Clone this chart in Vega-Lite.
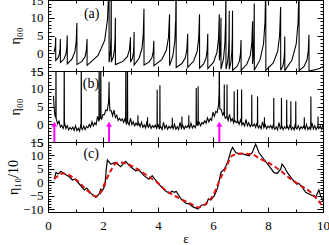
{
"$schema":"https://vega.github.io/schema/vega-lite/v6.json",
"padding":{"top":-6,"left":6,"right":0,"bottom":0},
"spacing":0,
"bounds":"flush",
"resolve":{"scale":{"x":"independent","y":"independent"}},
"config":{"font":"Liberation Serif","view":{"stroke":null},
"axis":{"grid":false,"domainColor":"black","tickColor":"black","labelColor":"black","titleColor":"black","labelFont":"Liberation Serif","titleFont":"Liberation Serif","labelFontSize":13,"titleFontSize":14,"titleFontWeight":"normal","domainWidth":1,"tickWidth":1,"labelOverlap":false,"labelBound":false,"labelFlush":false}},
"datasets":{
"a":[{"e":0.22,"v":0.3},{"e":0.25,"v":1.2},{"e":0.27,"v":2.4},{"e":0.28,"v":4.5},{"e":0.282,"v":-2.0},
{"e":0.366,"v":-1.3},{"e":0.416,"v":-0.2},{"e":0.438,"v":1.3},{"e":0.45,"v":4.0},{"e":0.452,"v":-2.6},
{"e":0.576,"v":-1.7},{"e":0.65,"v":-0.3},{"e":0.683,"v":1.6},{"e":0.70,"v":5.0},{"e":0.702,"v":-3.0},
{"e":0.876,"v":-1.6},{"e":0.98,"v":0.5},{"e":1.026,"v":3.3},{"e":1.05,"v":8.5},{"e":1.052,"v":-3.2},
{"e":1.236,"v":-2.3},{"e":1.346,"v":-1.0},{"e":1.394,"v":0.8},{"e":1.42,"v":4.0},{"e":1.422,"v":-3.4},
{"e":1.821,"v":-0.6},{"e":2.06,"v":3.6},{"e":2.164,"v":9.5},{"e":2.22,"v":20},{"e":2.222,"v":-2.5},
{"e":2.27,"v":0.5},{"e":2.29,"v":5},{"e":2.30,"v":20},{"e":2.302,"v":-2.5},
{"e":2.376,"v":-1.0},{"e":2.42,"v":1.3},{"e":2.44,"v":4.4},{"e":2.45,"v":10},{"e":2.452,"v":-3.2},
{"e":2.726,"v":-2.3},{"e":2.89,"v":-0.9},{"e":2.962,"v":1.0},{"e":3.0,"v":4.5},{"e":3.002,"v":-2.5},
{"e":3.066,"v":-1.5},{"e":3.104,"v":0.0},{"e":3.121,"v":2.2},{"e":3.13,"v":6},{"e":3.132,"v":-3.3},
{"e":3.311,"v":-1.4},{"e":3.418,"v":1.4},{"e":3.465,"v":5.4},{"e":3.49,"v":12.5},{"e":3.492,"v":-3.3},
{"e":3.671,"v":-2.5},{"e":3.778,"v":-1.3},{"e":3.826,"v":0.4},{"e":3.85,"v":3.5},{"e":3.852,"v":-3.5},
{"e":4.136,"v":-1.8},{"e":4.306,"v":0.9},{"e":4.382,"v":4.5},{"e":4.42,"v":11},{"e":4.422,"v":-3.5},
{"e":4.541,"v":-0.7},{"e":4.612,"v":3.5},{"e":4.644,"v":9.4},{"e":4.66,"v":20},{"e":4.662,"v":-4.0},
{"e":4.871,"v":-2.9},{"e":4.996,"v":-1.2},{"e":5.051,"v":1.2},{"e":5.08,"v":5.5},{"e":5.082,"v":-4.0},
{"e":5.296,"v":-2.2},{"e":5.424,"v":0.5},{"e":5.48,"v":4.3},{"e":5.51,"v":11},{"e":5.512,"v":-4.2},
{"e":5.661,"v":-3.0},{"e":5.75,"v":-1.3},{"e":5.789,"v":1.1},{"e":5.81,"v":5.5},{"e":5.812,"v":-4.3},
{"e":6.021,"v":-2.5},{"e":6.146,"v":0.3},{"e":6.2,"v":4.1},{"e":6.23,"v":11},{"e":6.232,"v":-2},
{"e":6.26,"v":0.5},{"e":6.28,"v":4},{"e":6.29,"v":10},{"e":6.292,"v":-4.5},
{"e":6.381,"v":-1.6},{"e":6.434,"v":2.9},{"e":6.458,"v":9.0},{"e":6.47,"v":20},{"e":6.472,"v":-4.5},
{"e":6.531,"v":-2.5},{"e":6.566,"v":0.5},{"e":6.582,"v":4.6},{"e":6.59,"v":12},{"e":6.592,"v":-4.5},
{"e":6.651,"v":-2.5},{"e":6.686,"v":0.5},{"e":6.702,"v":4.6},{"e":6.71,"v":12},{"e":6.712,"v":-4.8},
{"e":6.866,"v":-3.8},{"e":6.958,"v":-2.3},{"e":6.998,"v":-0.1},{"e":7.02,"v":3.7},{"e":7.022,"v":-4.8},
{"e":7.231,"v":-3.1},{"e":7.356,"v":-0.7},{"e":7.411,"v":2.8},{"e":7.44,"v":9},{"e":7.442,"v":-3},
{"e":7.47,"v":0},{"e":7.49,"v":5},{"e":7.50,"v":14},{"e":7.502,"v":-4.8},
{"e":7.711,"v":-1.8},{"e":7.836,"v":2.6},{"e":7.891,"v":8.8},{"e":7.92,"v":20},{"e":7.922,"v":-4.8},
{"e":8.191,"v":-2.7},{"e":8.352,"v":0.5},{"e":8.422,"v":5.0},{"e":8.46,"v":13},{"e":8.462,"v":-4.8},
{"e":8.536,"v":-3.7},{"e":8.58,"v":-2.0},{"e":8.6,"v":0.4},{"e":8.61,"v":4.7},{"e":8.612,"v":-4.9},
{"e":8.871,"v":-1.9},{"e":9.026,"v":2.6},{"e":9.094,"v":8.8},{"e":9.13,"v":20},{"e":9.132,"v":-4.9},
{"e":9.311,"v":-3.7},{"e":9.418,"v":-1.9},{"e":9.465,"v":0.7},{"e":9.49,"v":5.2},{"e":9.492,"v":-5.0},
{"e":9.75,"v":-4.6},{"e":9.9,"v":-4.2},{"e":10,"v":-3.8}],
"b":[{"e":0.20,"v":8.0},{"e":0.22,"v":5.0},{"e":0.25,"v":2.5},{"e":0.30,"v":1.5},{"e":0.35,"v":0.1},{"e":0.40,"v":0.9},{"e":0.45,"v":-0.8},{"e":0.50,"v":-0.3},{"e":0.55,"v":-1.2},{"e":0.60,"v":0.6},{"e":0.65,"v":-1.2},{"e":0.70,"v":-0.4},{"e":0.75,"v":-1.6},{"e":0.80,"v":-0.9},{"e":0.85,"v":-1.4},{"e":0.90,"v":-0.8},{"e":0.95,"v":-1.7},{"e":1.00,"v":-0.4},{"e":1.05,"v":-1.8},{"e":1.10,"v":-1.1},{"e":1.15,"v":-1.9},{"e":1.20,"v":0.2},{"e":1.25,"v":-1.5},{"e":1.30,"v":-0.5},{"e":1.35,"v":-1.5},{"e":1.40,"v":-0.6},{"e":1.45,"v":-1.0},{"e":1.50,"v":-0.1},{"e":1.55,"v":-0.8},{"e":1.60,"v":0.7},{"e":1.65,"v":-0.5},{"e":1.70,"v":0.4},{"e":1.75,"v":-0.1},{"e":1.80,"v":2.2},{"e":1.85,"v":0.8},{"e":1.90,"v":2.1},{"e":1.95,"v":1.4},{"e":2.00,"v":2.7},{"e":2.05,"v":2.7},{"e":2.10,"v":4.0},{"e":2.15,"v":3.8},{"e":2.20,"v":6.1},{"e":2.25,"v":3.8},{"e":2.30,"v":3.8},{"e":2.35,"v":2.4},{"e":2.40,"v":4.0},{"e":2.45,"v":1.9},{"e":2.50,"v":2.5},{"e":2.55,"v":1.1},{"e":2.60,"v":1.7},{"e":2.65,"v":1.0},{"e":2.70,"v":1.5},{"e":2.75,"v":0.5},{"e":2.80,"v":1.7},{"e":2.85,"v":0.1},{"e":2.90,"v":0.7},{"e":2.95,"v":-0.2},{"e":3.00,"v":1.7},{"e":3.05,"v":-0.1},{"e":3.10,"v":0.7},{"e":3.15,"v":-0.45},{"e":3.20,"v":0.3},{"e":3.25,"v":-0.3},{"e":3.30,"v":0.3},{"e":3.35,"v":-0.65},{"e":3.40,"v":0.6},{"e":3.45,"v":-0.85},{"e":3.50,"v":-0.2},{"e":3.55,"v":-1.05},{"e":3.60,"v":0.9},{"e":3.65,"v":-0.85},{"e":3.70,"v":0.0},{"e":3.75,"v":-1.15},{"e":3.80,"v":-0.4},{"e":3.85,"v":-0.9},{"e":3.90,"v":-0.2},{"e":3.95,"v":-1.15},{"e":4.00,"v":0.1},{"e":4.05,"v":-1.35},{"e":4.10,"v":-0.7},{"e":4.15,"v":-1.5},{"e":4.20,"v":0.5},{"e":4.25,"v":-1.2},{"e":4.30,"v":-0.3},{"e":4.35,"v":-1.4},{"e":4.40,"v":-0.6},{"e":4.45,"v":-1.1},{"e":4.50,"v":-0.4},{"e":4.55,"v":-1.3},{"e":4.60,"v":0.0},{"e":4.65,"v":-1.4},{"e":4.70,"v":-0.7},{"e":4.75,"v":-1.5},{"e":4.80,"v":0.5},{"e":4.85,"v":-1.2},{"e":4.90,"v":-0.3},{"e":4.95,"v":-1.35},{"e":5.00,"v":-0.5},{"e":5.05,"v":-0.95},{"e":5.10,"v":-0.2},{"e":5.15,"v":-1.05},{"e":5.20,"v":0.3},{"e":5.25,"v":-1.05},{"e":5.30,"v":-0.3},{"e":5.35,"v":-1.0},{"e":5.40,"v":1.1},{"e":5.45,"v":-0.5},{"e":5.50,"v":0.5},{"e":5.55,"v":-0.45},{"e":5.60,"v":0.5},{"e":5.65,"v":0.15},{"e":5.70,"v":1.0},{"e":5.75,"v":0.3},{"e":5.80,"v":1.8},{"e":5.85,"v":0.65},{"e":5.90,"v":1.6},{"e":5.95,"v":1.1},{"e":6.00,"v":3.4},{"e":6.05,"v":2.2},{"e":6.10,"v":3.6},{"e":6.15,"v":3.3},{"e":6.20,"v":5.3},{"e":6.25,"v":4.3},{"e":6.30,"v":4.1},{"e":6.35,"v":2.6},{"e":6.40,"v":3.4},{"e":6.45,"v":1.7},{"e":6.50,"v":2.1},{"e":6.55,"v":1.05},{"e":6.60,"v":2.8},{"e":6.65,"v":0.9},{"e":6.70,"v":1.6},{"e":6.75,"v":0.35},{"e":6.80,"v":1.0},{"e":6.85,"v":0.4},{"e":6.90,"v":1.0},{"e":6.95,"v":0.0},{"e":7.00,"v":1.2},{"e":7.05,"v":-0.25},{"e":7.10,"v":0.35},{"e":7.15,"v":-0.5},{"e":7.20,"v":1.4},{"e":7.25,"v":-0.4},{"e":7.30,"v":0.45},{"e":7.35,"v":-0.7},{"e":7.40,"v":0.0},{"e":7.45,"v":-0.55},{"e":7.50,"v":0.1},{"e":7.55,"v":-0.85},{"e":7.60,"v":0.4},{"e":7.65,"v":-1.05},{"e":7.70,"v":-0.4},{"e":7.75,"v":-1.25},{"e":7.80,"v":0.7},{"e":7.85,"v":-1.0},{"e":7.90,"v":-0.15},{"e":7.95,"v":-1.25},{"e":8.00,"v":-0.5},{"e":8.05,"v":-1.0},{"e":8.10,"v":-0.35},{"e":8.15,"v":-1.25},{"e":8.20,"v":0.0},{"e":8.25,"v":-1.4},{"e":8.30,"v":-0.7},{"e":8.35,"v":-1.55},{"e":8.40,"v":0.45},{"e":8.45,"v":-1.3},{"e":8.50,"v":-0.4},{"e":8.55,"v":-1.5},{"e":8.60,"v":-0.7},{"e":8.65,"v":-1.2},{"e":8.70,"v":-0.5},{"e":8.75,"v":-1.4},{"e":8.80,"v":-0.1},{"e":8.85,"v":-1.5},{"e":8.90,"v":-0.8},{"e":8.95,"v":-1.6},{"e":9.00,"v":0.4},{"e":9.05,"v":-1.3},{"e":9.10,"v":-0.4},{"e":9.15,"v":-1.5},{"e":9.20,"v":-0.7},{"e":9.25,"v":-1.2},{"e":9.30,"v":-0.5},{"e":9.35,"v":-1.4},{"e":9.40,"v":-0.1},{"e":9.45,"v":-1.5},{"e":9.50,"v":-0.8},{"e":9.55,"v":-1.6},{"e":9.60,"v":0.4},{"e":9.65,"v":-1.3},{"e":9.70,"v":-0.4},{"e":9.75,"v":-1.5},{"e":9.80,"v":-0.7},{"e":9.85,"v":-1.2},{"e":9.90,"v":-0.5},{"e":9.95,"v":-1.4},{"e":10.00,"v":-0.1},
{"e":0.284,"v":1.8},{"e":0.29,"v":20},{"e":0.296,"v":1.4},
{"e":0.582,"v":-0.5},{"e":0.59,"v":20},{"e":0.598,"v":-0.5},
{"e":1.202,"v":-1.0},{"e":1.21,"v":20},{"e":1.218,"v":-1.0},
{"e":1.852,"v":1.0},{"e":1.86,"v":20},{"e":1.868,"v":1.2},
{"e":1.912,"v":1.6},{"e":1.92,"v":20},{"e":1.928,"v":1.7},
{"e":2.21,"v":8},{"e":2.22,"v":12},{"e":2.23,"v":7},
{"e":2.822,"v":0.7},{"e":2.83,"v":20},{"e":2.838,"v":0.6},
{"e":2.882,"v":0.5},{"e":2.89,"v":20},{"e":2.898,"v":0.5},
{"e":6.222,"v":9},{"e":6.23,"v":20},{"e":6.238,"v":8},
{"e":3.964,"v":-0.7},{"e":3.97,"v":9.7},{"e":3.976,"v":-0.8},
{"e":4.064,"v":-0.8},{"e":4.07,"v":11},{"e":4.076,"v":-0.9},
{"e":5.384,"v":-0.3},{"e":5.39,"v":10.2},{"e":5.396,"v":-0.3},
{"e":5.454,"v":-0.2},{"e":5.46,"v":10.7},{"e":5.466,"v":-0.1},
{"e":6.404,"v":2.5},{"e":6.41,"v":11.2},{"e":6.416,"v":2.4},
{"e":6.504,"v":1.9},{"e":6.51,"v":11.2},{"e":6.516,"v":1.8},
{"e":6.764,"v":0.8},{"e":6.77,"v":9.3},{"e":6.776,"v":0.8},
{"e":6.884,"v":0.5},{"e":6.89,"v":9.8},{"e":6.896,"v":0.5},
{"e":7.034,"v":0.3},{"e":7.04,"v":9.8},{"e":7.046,"v":0.2},
{"e":7.404,"v":-0.3},{"e":7.41,"v":8.3},{"e":7.416,"v":-0.3},
{"e":7.614,"v":-0.5},{"e":7.62,"v":7.8},{"e":7.626,"v":-0.5},
{"e":8.204,"v":-0.9},{"e":8.21,"v":7.4},{"e":8.216,"v":-0.9},
{"e":8.484,"v":-1.0},{"e":8.49,"v":7.4},{"e":8.496,"v":-1.0},
{"e":8.674,"v":-1.0},{"e":8.68,"v":6.9},{"e":8.686,"v":-1.0},
{"e":8.824,"v":-1.0},{"e":8.83,"v":6.5},{"e":8.836,"v":-1.0},
{"e":9.004,"v":-1.0},{"e":9.01,"v":6.5},{"e":9.016,"v":-1.0},
{"e":9.554,"v":-1.0},{"e":9.56,"v":7.8},{"e":9.566,"v":-1.0},
{"e":3.266,"v":-0.1},{"e":3.27,"v":2.5},{"e":3.274,"v":-0.2},
{"e":3.616,"v":-0.5},{"e":3.62,"v":2.0},{"e":3.624,"v":-0.5},
{"e":4.516,"v":-0.9},{"e":4.52,"v":1.8},{"e":4.524,"v":-0.9},
{"e":4.866,"v":-0.9},{"e":4.87,"v":2.2},{"e":4.874,"v":-0.9},
{"e":5.116,"v":-0.7},{"e":5.12,"v":2.5},{"e":5.124,"v":-0.7},
{"e":7.866,"v":-0.7},{"e":7.87,"v":2.0},{"e":7.874,"v":-0.7},
{"e":9.316,"v":-1.0},{"e":9.32,"v":2.0},{"e":9.324,"v":-1.0},
{"e":9.816,"v":-1.0},{"e":9.82,"v":2.2},{"e":9.824,"v":-1.0}],
"ck":[{"e":0.23,"v":1.2},{"e":0.29,"v":3.7},{"e":0.37,"v":3.1},{"e":0.47,"v":4.1},{"e":0.65,"v":2.8},{"e":0.77,"v":2.1},{"e":0.89,"v":0.9},{"e":0.98,"v":1.2},{"e":1.14,"v":-0.6},{"e":1.32,"v":-2.8},{"e":1.41,"v":-2.1},{"e":1.56,"v":-4.1},{"e":1.74,"v":-5.6},{"e":1.86,"v":-4.3},{"e":1.92,"v":-2.5},{"e":1.98,"v":-3.1},{"e":2.07,"v":-1.2},{"e":2.12,"v":5.0},{"e":2.16,"v":8.3},{"e":2.28,"v":6.8},{"e":2.46,"v":7.4},{"e":2.64,"v":5.8},{"e":2.82,"v":7.8},{"e":3.00,"v":5.8},{"e":3.19,"v":4.3},{"e":3.31,"v":4.6},{"e":3.49,"v":2.5},{"e":3.67,"v":1.2},{"e":3.79,"v":2.5},{"e":3.97,"v":0.0},{"e":4.25,"v":-3.0},{"e":4.42,"v":-4.1},{"e":4.50,"v":-3.3},{"e":4.60,"v":-3.7},{"e":4.66,"v":-3.3},{"e":4.84,"v":-6.2},{"e":5.02,"v":-7.8},{"e":5.14,"v":-8.0},{"e":5.26,"v":-9.0},{"e":5.45,"v":-9.9},{"e":5.57,"v":-8.6},{"e":5.63,"v":-8.3},{"e":5.75,"v":-8.3},{"e":5.83,"v":-6.2},{"e":5.93,"v":-6.5},{"e":6.05,"v":-4.9},{"e":6.17,"v":-1.9},{"e":6.29,"v":3.7},{"e":6.41,"v":4.9},{"e":6.53,"v":7.4},{"e":6.65,"v":11.7},{"e":6.71,"v":13.0},{"e":6.83,"v":11.1},{"e":6.95,"v":10.5},{"e":7.07,"v":10.7},{"e":7.19,"v":10.2},{"e":7.31,"v":9.9},{"e":7.43,"v":11.1},{"e":7.55,"v":14.2},{"e":7.67,"v":11.1},{"e":7.85,"v":8.6},{"e":8.03,"v":6.2},{"e":8.21,"v":3.7},{"e":8.33,"v":3.3},{"e":8.46,"v":4.9},{"e":8.51,"v":6.8},{"e":8.60,"v":5.6},{"e":8.70,"v":3.7},{"e":8.88,"v":1.2},{"e":9.04,"v":-0.6},{"e":9.12,"v":-0.4},{"e":9.25,"v":-1.9},{"e":9.37,"v":-3.7},{"e":9.49,"v":-4.3},{"e":9.61,"v":-4.9},{"e":9.73,"v":-5.6},{"e":9.85,"v":-2.8},{"e":9.91,"v":-4.9},{"e":10.0,"v":-6.8}],
"cr":[{"e":0.23,"v":1.2},{"e":0.53,"v":3.3},{"e":1.07,"v":0.6},{"e":1.44,"v":-3.1},{"e":1.74,"v":-5.2},{"e":1.92,"v":-3.7},{"e":2.1,"v":0.6},{"e":2.28,"v":4.3},{"e":2.46,"v":7.0},{"e":2.64,"v":7.4},{"e":2.89,"v":6.8},{"e":3.25,"v":4.9},{"e":3.61,"v":2.5},{"e":3.97,"v":0.0},{"e":4.25,"v":-2.7},{"e":4.72,"v":-5.6},{"e":5.2,"v":-8.0},{"e":5.45,"v":-9.3},{"e":5.8,"v":-7.4},{"e":6.0,"v":-4.9},{"e":6.23,"v":0.6},{"e":6.47,"v":5.5},{"e":6.7,"v":9.9},{"e":7.0,"v":10.7},{"e":7.38,"v":10.5},{"e":7.74,"v":8.6},{"e":8.1,"v":6.8},{"e":8.46,"v":4.3},{"e":8.83,"v":1.2},{"e":9.19,"v":-1.2},{"e":9.55,"v":-3.7},{"e":9.97,"v":-8.6}],
"h":[{"e":0,"v":0}]
},
"vconcat":[
{"width":275,"height":71,
"resolve":{"axis":{"x":"independent","y":"independent"}},
"layer":[
{"data":{"name":"a"},"mark":{"type":"line","color":"black","strokeWidth":1.1,"clip":true},
"encoding":{"x":{"field":"e","type":"quantitative","scale":{"domain":[0,10],"nice":false,"zero":false},"axis":{"orient":"bottom","labels":false,"ticks":false,"title":null}},
"y":{"field":"v","type":"quantitative","scale":{"domain":[-5,15],"nice":false,"zero":false},"axis":{"orient":"left","values":[-5,0,5,10,15],"ticks":false,"labelPadding":5,"title":"η₀₀","titlePadding":7}}}},
{"data":{"name":"h"},"mark":{"type":"point","opacity":0},
"encoding":{"x":{"field":"e","type":"quantitative","scale":{"domain":[0,10],"nice":false,"zero":false},"axis":{"orient":"top","values":[0,2,4,6,8,10],"tickSize":-5,"labels":false,"title":null}},
"y":{"field":"v","type":"quantitative","scale":{"domain":[-5,15],"nice":false,"zero":false},"axis":{"orient":"right","values":[-5,0,5,10,15],"tickSize":-6,"labels":false,"title":null}}}},
{"data":{"name":"h"},"mark":{"type":"point","opacity":0},
"encoding":{"x":{"field":"e","type":"quantitative","scale":{"domain":[0,10],"nice":false,"zero":false},"axis":{"orient":"bottom","values":[0,2,4,6,8,10],"tickSize":-5,"labels":false,"title":null}},
"y":{"field":"v","type":"quantitative","scale":{"domain":[-5,15],"nice":false,"zero":false},"axis":{"orient":"left","values":[-5,0,5,10,15],"tickSize":-6,"labels":false,"title":null}}}},
{"data":{"name":"h"},"mark":{"type":"point","opacity":0},
"encoding":{"x":{"field":"e","type":"quantitative","scale":{"domain":[0,10],"nice":false,"zero":false},"axis":{"orient":"top","values":[1,3,5,7,9],"tickSize":-3,"labels":false,"title":null}},
"y":{"field":"v","type":"quantitative","scale":{"domain":[-5,15],"nice":false,"zero":false},"axis":{"orient":"right","values":[-4,-3,-2,-1,1,2,3,4,6,7,8,9,11,12,13,14],"tickSize":-3,"labels":false,"title":null}}}},
{"data":{"name":"h"},"mark":{"type":"point","opacity":0},
"encoding":{"x":{"field":"e","type":"quantitative","scale":{"domain":[0,10],"nice":false,"zero":false},"axis":{"orient":"bottom","values":[1,3,5,7,9],"tickSize":-3,"labels":false,"title":null}},
"y":{"field":"v","type":"quantitative","scale":{"domain":[-5,15],"nice":false,"zero":false},"axis":{"orient":"left","values":[-4,-3,-2,-1,1,2,3,4,6,7,8,9,11,12,13,14],"tickSize":-3,"labels":false,"title":null}}}},
{"data":{"values":[{"e":1.59,"v":11.1,"t":"(a)"}]},"mark":{"type":"text","font":"Liberation Serif","fontSize":14,"color":"black"},
"encoding":{"x":{"field":"e","type":"quantitative","scale":{"domain":[0,10],"nice":false,"zero":false},"axis":null},
"y":{"field":"v","type":"quantitative","scale":{"domain":[-5,15],"nice":false,"zero":false},"axis":null},"text":{"field":"t"}}}
]},
{"width":275,"height":71,
"resolve":{"axis":{"x":"independent","y":"independent"}},
"layer":[
{"data":{"name":"b"},"mark":{"type":"line","color":"black","strokeWidth":1.1,"clip":true},
"encoding":{"x":{"field":"e","type":"quantitative","scale":{"domain":[0,10],"nice":false,"zero":false},"axis":{"orient":"bottom","labels":false,"ticks":false,"title":null}},
"y":{"field":"v","type":"quantitative","scale":{"domain":[-5,15],"nice":false,"zero":false},"axis":{"orient":"left","values":[-5,0,5,10,15],"ticks":false,"labelPadding":5,"title":"η₀₀","titlePadding":7}}}},
{"data":{"name":"h"},"mark":{"type":"point","opacity":0},
"encoding":{"x":{"field":"e","type":"quantitative","scale":{"domain":[0,10],"nice":false,"zero":false},"axis":{"orient":"top","values":[0,2,4,6,8,10],"tickSize":-5,"labels":false,"title":null}},
"y":{"field":"v","type":"quantitative","scale":{"domain":[-5,15],"nice":false,"zero":false},"axis":{"orient":"right","values":[-5,0,5,10,15],"tickSize":-6,"labels":false,"title":null}}}},
{"data":{"name":"h"},"mark":{"type":"point","opacity":0},
"encoding":{"x":{"field":"e","type":"quantitative","scale":{"domain":[0,10],"nice":false,"zero":false},"axis":{"orient":"bottom","values":[0,2,4,6,8,10],"tickSize":-5,"labels":false,"title":null}},
"y":{"field":"v","type":"quantitative","scale":{"domain":[-5,15],"nice":false,"zero":false},"axis":{"orient":"left","values":[-5,0,5,10,15],"tickSize":-6,"labels":false,"title":null}}}},
{"data":{"name":"h"},"mark":{"type":"point","opacity":0},
"encoding":{"x":{"field":"e","type":"quantitative","scale":{"domain":[0,10],"nice":false,"zero":false},"axis":{"orient":"top","values":[1,3,5,7,9],"tickSize":-3,"labels":false,"title":null}},
"y":{"field":"v","type":"quantitative","scale":{"domain":[-5,15],"nice":false,"zero":false},"axis":{"orient":"right","values":[-4,-3,-2,-1,1,2,3,4,6,7,8,9,11,12,13,14],"tickSize":-3,"labels":false,"title":null}}}},
{"data":{"name":"h"},"mark":{"type":"point","opacity":0},
"encoding":{"x":{"field":"e","type":"quantitative","scale":{"domain":[0,10],"nice":false,"zero":false},"axis":{"orient":"bottom","values":[1,3,5,7,9],"tickSize":-3,"labels":false,"title":null}},
"y":{"field":"v","type":"quantitative","scale":{"domain":[-5,15],"nice":false,"zero":false},"axis":{"orient":"left","values":[-4,-3,-2,-1,1,2,3,4,6,7,8,9,11,12,13,14],"tickSize":-3,"labels":false,"title":null}}}},
{"data":{"values":[{"e":0.23,"y1":-5,"y2":-0.6},{"e":2.22,"y1":-5,"y2":-0.6},{"e":6.23,"y1":-5,"y2":-0.6}]},"mark":{"type":"rule","color":"#ff00ff","strokeWidth":2},
"encoding":{"x":{"field":"e","type":"quantitative","scale":{"domain":[0,10],"nice":false,"zero":false},"axis":null},
"y":{"field":"y1","type":"quantitative","scale":{"domain":[-5,15],"nice":false,"zero":false},"axis":null},"y2":{"field":"y2"}}},
{"data":{"values":[{"e":0.23,"v":0.0},{"e":2.22,"v":0.0},{"e":6.23,"v":0.0}]},"mark":{"type":"point","shape":"triangle-up","filled":true,"color":"#ff00ff","opacity":1,"size":36},
"encoding":{"x":{"field":"e","type":"quantitative","scale":{"domain":[0,10],"nice":false,"zero":false},"axis":null},
"y":{"field":"v","type":"quantitative","scale":{"domain":[-5,15],"nice":false,"zero":false},"axis":null}}},
{"data":{"values":[{"e":1.56,"v":11.3,"t":"(b)"}]},"mark":{"type":"text","font":"Liberation Serif","fontSize":14,"color":"black"},
"encoding":{"x":{"field":"e","type":"quantitative","scale":{"domain":[0,10],"nice":false,"zero":false},"axis":null},
"y":{"field":"v","type":"quantitative","scale":{"domain":[-5,15],"nice":false,"zero":false},"axis":null},"text":{"field":"t"}}}
]},
{"width":275,"height":70,
"resolve":{"axis":{"x":"independent","y":"independent"}},
"layer":[
{"data":{"name":"ck"},"mark":{"type":"line","color":"black","strokeWidth":1.2,"clip":true},
"encoding":{"x":{"field":"e","type":"quantitative","scale":{"domain":[0,10],"nice":false,"zero":false},"axis":{"orient":"bottom","values":[0,2,4,6,8,10],"ticks":false,"labelPadding":7,"title":"ε","titleFontSize":13,"titlePadding":0}},
"y":{"field":"v","type":"quantitative","scale":{"domain":[-11,15],"nice":false,"zero":false},"axis":{"orient":"left","values":[-10,-5,0,5,10,15],"ticks":false,"labelPadding":5,"title":"η₁₀/10","titlePadding":2}}}},
{"data":{"name":"cr"},"mark":{"type":"line","color":"#e01010","strokeWidth":2,"strokeDash":[5,3],"interpolate":"monotone","clip":true},
"encoding":{"x":{"field":"e","type":"quantitative","scale":{"domain":[0,10],"nice":false,"zero":false},"axis":null},
"y":{"field":"v","type":"quantitative","scale":{"domain":[-11,15],"nice":false,"zero":false},"axis":null}}},
{"data":{"name":"h"},"mark":{"type":"point","opacity":0},
"encoding":{"x":{"field":"e","type":"quantitative","scale":{"domain":[0,10],"nice":false,"zero":false},"axis":{"orient":"top","values":[0,2,4,6,8,10],"tickSize":-5,"labels":false,"title":null}},
"y":{"field":"v","type":"quantitative","scale":{"domain":[-11,15],"nice":false,"zero":false},"axis":{"orient":"right","values":[-10,-5,0,5,10,15],"tickSize":-6,"labels":false,"title":null}}}},
{"data":{"name":"h"},"mark":{"type":"point","opacity":0},
"encoding":{"x":{"field":"e","type":"quantitative","scale":{"domain":[0,10],"nice":false,"zero":false},"axis":{"orient":"bottom","values":[0,2,4,6,8,10],"tickSize":-5,"labels":false,"title":null}},
"y":{"field":"v","type":"quantitative","scale":{"domain":[-11,15],"nice":false,"zero":false},"axis":{"orient":"left","values":[-10,-5,0,5,10,15],"tickSize":-6,"labels":false,"title":null}}}},
{"data":{"name":"h"},"mark":{"type":"point","opacity":0},
"encoding":{"x":{"field":"e","type":"quantitative","scale":{"domain":[0,10],"nice":false,"zero":false},"axis":{"orient":"top","values":[1,3,5,7,9],"tickSize":-3,"labels":false,"title":null}},
"y":{"field":"v","type":"quantitative","scale":{"domain":[-11,15],"nice":false,"zero":false},"axis":{"orient":"right","values":[-9,-8,-7,-6,-4,-3,-2,-1,1,2,3,4,6,7,8,9,11,12,13,14],"tickSize":-3,"labels":false,"title":null}}}},
{"data":{"name":"h"},"mark":{"type":"point","opacity":0},
"encoding":{"x":{"field":"e","type":"quantitative","scale":{"domain":[0,10],"nice":false,"zero":false},"axis":{"orient":"bottom","values":[1,3,5,7,9],"tickSize":-3,"labels":false,"title":null}},
"y":{"field":"v","type":"quantitative","scale":{"domain":[-11,15],"nice":false,"zero":false},"axis":{"orient":"left","values":[-9,-8,-7,-6,-4,-3,-2,-1,1,2,3,4,6,7,8,9,11,12,13,14],"tickSize":-3,"labels":false,"title":null}}}},
{"data":{"values":[{"e":1.57,"v":10.6,"t":"(c)"}]},"mark":{"type":"text","font":"Liberation Serif","fontSize":14,"color":"black"},
"encoding":{"x":{"field":"e","type":"quantitative","scale":{"domain":[0,10],"nice":false,"zero":false},"axis":null},
"y":{"field":"v","type":"quantitative","scale":{"domain":[-11,15],"nice":false,"zero":false},"axis":null},"text":{"field":"t"}}}
]}
]
}
